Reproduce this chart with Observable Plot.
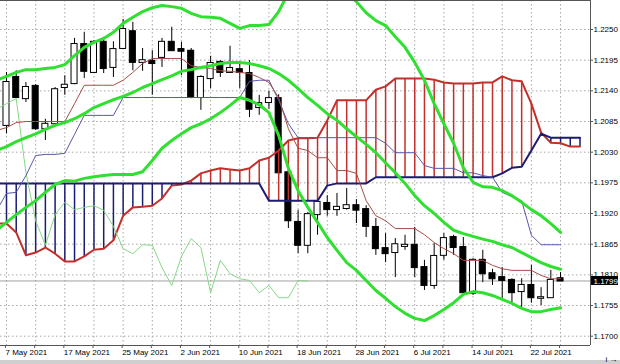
<!DOCTYPE html>
<html><head><meta charset="utf-8">
<script src="https://cdn.jsdelivr.net/npm/d3@7"></script>
<script src="https://cdn.jsdelivr.net/npm/@observablehq/plot@0.6"></script>
<style>
html,body{margin:0;padding:0;background:#fff;overflow:hidden}
#chart svg{background:linear-gradient(to bottom,#fff 0,#fff 360px,#cfcfcf 360px,#cfcfcf 364px) !important;font-family:"Liberation Sans",Arial,sans-serif}
</style></head><body><div id="chart"></div>
<script>
// ---- data (EURUSD daily, bar index 0 = 7 May 2021) ----
const tickBars = [0, 6, 12, 18, 24, 30, 36, 42, 48, 54];
const tickLabels = ["7 May 2021","17 May 2021","25 May 2021","2 Jun 2021","10 Jun 2021","18 Jun 2021","28 Jun 2021","6 Jul 2021","14 Jul 2021","22 Jul 2021"];
const gridBars = [0,3,6,9,12,15,18,21,24,27,30,33,36,39,42,45,48,51,54,57];
const priceTicks = [1.2250,1.2195,1.2140,1.2085,1.2030,1.1975,1.1920,1.1865,1.1810,1.1755,1.1700];
const lastPrice = 1.1799;

const opens = [1.2078,1.2164,1.2126,1.2148,1.2072,1.2081,1.2146,1.2153,1.2223,1.2173,
 1.2227,1.2182,1.2216,1.2246,1.2191,1.2193,1.2200,1.2227,1.2214,1.2211,
 1.2128,1.2162,1.2191,1.2173,1.2178,1.2171,1.2110,1.2119,1.2126,1.1993,
 1.1904,1.1863,1.1918,1.1938,1.1927,1.1929,1.1934,1.1927,1.1895,1.1857,
 1.1850,1.1861,1.1863,1.1823,1.1791,1.1845,1.1877,1.1859,1.1777,1.1836,
 1.1812,1.1805,1.1800,1.1780,1.1791,1.1768,1.1769,1.1803];
const highs = [1.2173,1.2176,1.2155,1.2151,1.2089,1.2146,1.2167,1.2234,1.2245,1.2230,
 1.2236,1.2228,1.2268,1.2263,1.2216,1.2212,1.2234,1.2254,1.2227,1.2216,
 1.2167,1.2202,1.2194,1.2220,1.2189,1.2194,1.2132,1.2139,1.2133,1.1997,
 1.1926,1.1922,1.1940,1.1952,1.1956,1.1965,1.1945,1.1934,1.1911,1.1884,
 1.1875,1.1881,1.1895,1.1836,1.1866,1.1884,1.1881,1.1877,1.1839,1.1854,
 1.1820,1.1823,1.1803,1.1803,1.1827,1.1787,1.1818,1.1814];
const lows = [1.2063,1.2126,1.2119,1.2069,1.2051,1.2080,1.2132,1.2151,1.2162,1.2171,
 1.2171,1.2164,1.2214,1.2176,1.2175,1.2132,1.2182,1.2211,1.2167,1.2126,
 1.2105,1.2144,1.2164,1.2171,1.2144,1.2092,1.2096,1.2107,1.1988,1.1893,
 1.1848,1.1848,1.1881,1.1915,1.1915,1.1926,1.1902,1.1877,1.1845,1.1832,
 1.1805,1.1854,1.1805,1.1782,1.1784,1.1836,1.1845,1.1777,1.1773,1.1796,
 1.1791,1.1768,1.1759,1.1751,1.1759,1.1755,1.1768,1.1800];
const closes = [1.2155,1.2128,1.2146,1.2072,1.2080,1.2142,1.2150,1.2223,1.2175,1.2227,
 1.2180,1.2214,1.2250,1.2191,1.2194,1.2189,1.2227,1.2212,1.2211,1.2128,
 1.2164,1.2189,1.2173,1.2180,1.2173,1.2107,1.2117,1.2126,1.1993,1.1907,
 1.1863,1.1918,1.1940,1.1927,1.1931,1.1934,1.1926,1.1897,1.1857,1.1848,
 1.1864,1.1863,1.1823,1.1791,1.1843,1.1875,1.1859,1.1778,1.1836,1.1812,
 1.1803,1.1800,1.1778,1.1791,1.1769,1.1769,1.1800,1.1799];

// indicator lines, first value at bar -1
const lineStart = -1;
const tenkan = [1.2069,1.2074,1.2083,1.2085,1.2085,1.2085,1.2085,1.2085,1.2117,1.2150,
 1.2150,1.2150,1.2150,1.2159,1.2173,1.2189,1.2198,1.2198,1.2198,1.2198,
 1.2185,1.2182,1.2180,1.2176,1.2175,1.2173,1.2171,1.2164,1.2155,1.2128,
 1.2072,1.2037,1.2033,1.2020,1.2020,1.1997,1.1997,1.1992,1.1943,1.1916,
 1.1907,1.1893,1.1893,1.1893,1.1882,1.1868,1.1857,1.1848,1.1836,1.1836,
 1.1836,1.1827,1.1821,1.1818,1.1818,1.1818,1.1809,1.1803,1.1803];
const kijun = [1.1926,1.1956,1.1958,1.1988,1.2024,1.2026,1.2026,1.2028,1.2062,1.2096,
 1.2096,1.2096,1.2096,1.2128,1.2128,1.2128,1.2128,1.2128,1.2128,1.2128,
 1.2128,1.2128,1.2128,1.2128,1.2128,1.2128,1.2157,1.2159,1.2159,1.2123,
 1.2081,1.2056,1.2056,1.2056,1.2056,1.2056,1.2056,1.2056,1.2056,1.2056,
 1.2046,1.2029,1.2029,1.2029,1.2006,1.2001,1.2001,1.2001,1.1993,1.1993,
 1.1988,1.1985,1.1958,1.1950,1.1943,1.1881,1.1864,1.1864,1.1864];
const bbUpper = [1.2159,1.2166,1.2173,1.2178,1.2178,1.2180,1.2182,1.2187,1.2203,1.2218,
 1.2227,1.2234,1.2245,1.2261,1.2272,1.2282,1.2289,1.2293,1.2291,1.2288,
 1.2279,1.2273,1.2272,1.2270,1.2261,1.2252,1.2257,1.2257,1.2259,1.2282,
 1.2316,1.2327,1.2327,1.2325,1.2324,1.2320,1.2313,1.2300,1.2280,1.2266,
 1.2257,1.2237,1.2218,1.2191,1.2159,1.2117,1.2081,1.2046,1.2002,1.1976,
 1.1968,1.1967,1.1961,1.1952,1.1940,1.1927,1.1916,1.1902,1.1886];
const bbMiddle = [1.2033,1.2040,1.2049,1.2056,1.2063,1.2071,1.2078,1.2083,1.2090,1.2099,
 1.2110,1.2117,1.2124,1.2130,1.2137,1.2146,1.2153,1.2160,1.2167,1.2175,
 1.2178,1.2182,1.2185,1.2189,1.2191,1.2191,1.2189,1.2185,1.2180,1.2171,
 1.2159,1.2144,1.2128,1.2114,1.2099,1.2087,1.2072,1.2058,1.2044,1.2029,
 1.2011,1.1993,1.1974,1.1952,1.1934,1.1920,1.1904,1.1890,1.1884,1.1879,
 1.1874,1.1870,1.1864,1.1859,1.1850,1.1841,1.1832,1.1825,1.1820];
const bbLower = [1.1890,1.1904,1.1918,1.1931,1.1943,1.1958,1.1972,1.1979,1.1978,1.1983,
 1.1986,1.1988,1.1990,1.1990,1.1990,1.1995,1.2015,1.2037,1.2051,1.2063,
 1.2074,1.2081,1.2090,1.2101,1.2114,1.2128,1.2123,1.2115,1.2101,1.2060,
 1.2001,1.1961,1.1931,1.1904,1.1877,1.1854,1.1832,1.1818,1.1800,1.1782,
 1.1768,1.1753,1.1741,1.1732,1.1728,1.1737,1.1748,1.1760,1.1775,1.1780,
 1.1778,1.1773,1.1766,1.1759,1.1750,1.1744,1.1744,1.1748,1.1751];
// cloud (senkou spans), first value at bar -1, runs to bar 59
const spanA = [1.1902,1.1902,1.1886,1.1845,1.1850,1.1859,1.1848,1.1834,1.1834,1.1843,
 1.1855,1.1857,1.1872,1.1916,1.1931,1.1932,1.1934,1.1947,1.1970,1.1972,
 1.1979,1.1992,1.1997,1.2001,1.1999,1.1997,1.2001,1.2015,1.2020,1.2033,
 1.2051,1.2055,1.2055,1.2056,1.2087,1.2123,1.2123,1.2123,1.2123,1.2142,
 1.2148,1.2162,1.2162,1.2162,1.2162,1.2160,1.2155,1.2153,1.2153,1.2153,
 1.2155,1.2155,1.2166,1.2159,1.2157,1.2117,1.2065,1.2047,1.2046,1.2040,1.2040];
const spanB = [1.1974,1.1974,1.1974,1.1974,1.1974,1.1974,1.1974,1.1974,1.1974,1.1974,
 1.1974,1.1974,1.1974,1.1974,1.1974,1.1974,1.1974,1.1974,1.1974,1.1974,
 1.1974,1.1974,1.1974,1.1974,1.1974,1.1974,1.1974,1.1974,1.1943,1.1943,
 1.1943,1.1943,1.1943,1.1943,1.1970,1.1974,1.1974,1.1974,1.1974,1.1985,
 1.1985,1.1985,1.1985,1.1985,1.1985,1.1985,1.1985,1.1985,1.1985,1.1985,
 1.1985,1.1985,1.1992,1.2002,1.2004,1.2033,1.2063,1.2056,1.2056,1.2056,1.2056];
// chikou span, first value at bar -1
const chikou = [1.2107,1.2117,1.2126,1.1993,1.1907,1.1863,1.1918,1.1940,1.1927,1.1931,
 1.1934,1.1926,1.1897,1.1857,1.1848,1.1864,1.1863,1.1823,1.1791,1.1843,
 1.1875,1.1859,1.1778,1.1836,1.1812,1.1803,1.1800,1.1778,1.1791,1.1769,
 1.1769,1.1800,1.1799];

// ---- build tables ----
const candles = opens.map((o, k) => ({i: k, open: o, high: highs[k], low: lows[k], close: closes[k]}));
const up = candles.filter(d => d.close >= d.open);
const down = candles.filter(d => d.close < d.open);
const toSeries = arr => arr.map((v, k) => ({i: lineStart + k, v}));
const cloud = spanA.map((a, k) => ({i: lineStart + k, a, b: spanB[k]}));
const labelOf = new Map(tickBars.map((b, k) => [b, tickLabels[k]]));

const xDomain = [-0.617, 60.082];
const yDomain = [1.16833, 1.2302];
const RED = "#c3302b", NAVY = "#1c1c72", GREEN = "#30e030";
const half = 0.31;

const chart = Plot.plot({
  width: 620, height: 364,
  marginLeft: 0, marginRight: 30, marginTop: 0, marginBottom: 19,
  x: {domain: xDomain},
  y: {domain: yDomain},
  marks: [
    Plot.gridY(priceTicks, {stroke: "#a8a8a8", strokeOpacity: 1, strokeDasharray: "1.5,2.5"}),
    Plot.gridX(gridBars, {stroke: "#a8a8a8", strokeOpacity: 1, strokeDasharray: "1.5,2.5"}),
    Plot.ruleY([lastPrice], {stroke: "#a0a0a0"}),
    // candles
    Plot.ruleX(candles, {x: "i", y1: "low", y2: "high", stroke: "#000", strokeWidth: 1}),
    Plot.rect(up, {x1: d => d.i - half, x2: d => d.i + half, y1: "open", y2: "close", fill: "#fff", stroke: "#000", strokeWidth: 1, insetTop: -0.5, insetBottom: -0.5}),
    Plot.rect(down, {x1: d => d.i - half, x2: d => d.i + half, y1: "open", y2: "close", fill: "#000", stroke: "#000", strokeWidth: 1, insetTop: -0.5, insetBottom: -0.5}),
    // cloud hatching
    Plot.ruleX(cloud.filter(d => d.a >= d.b), {x: "i", y1: "a", y2: "b", stroke: RED, strokeWidth: 1.5, clip: true}),
    Plot.ruleX(cloud.filter(d => d.a < d.b), {x: "i", y1: "a", y2: "b", stroke: NAVY, strokeWidth: 1.5, clip: true}),
    Plot.line(cloud, {x: "i", y: "a", stroke: RED, strokeWidth: 2, clip: true}),
    Plot.line(cloud, {x: "i", y: "b", stroke: NAVY, strokeWidth: 2, clip: true}),
    // ichimoku lines
    Plot.line(chikou.map((v, k) => ({i: lineStart + k, v})), {x: "i", y: "v", stroke: "#86d886", strokeWidth: 1, clip: true}),
    Plot.line(toSeries(kijun), {x: "i", y: "v", stroke: "#5858aa", strokeWidth: 1, clip: true}),
    Plot.line(toSeries(tenkan), {x: "i", y: "v", stroke: "#a84c48", strokeWidth: 1, clip: true}),
    // bollinger bands
    Plot.line(toSeries(bbUpper), {x: "i", y: "v", stroke: GREEN, strokeWidth: 3, clip: true}),
    Plot.line(toSeries(bbMiddle), {x: "i", y: "v", stroke: GREEN, strokeWidth: 3, clip: true}),
    Plot.line(toSeries(bbLower), {x: "i", y: "v", stroke: GREEN, strokeWidth: 3, clip: true}),
    // frame lines
    Plot.ruleY([yDomain[1], yDomain[0]], {stroke: "#555"}),
    Plot.ruleX([xDomain[1]], {stroke: "#555"}),
    // axes
    Plot.axisY(priceTicks, {anchor: "right", tickSize: 2, tickPadding: 1, fontSize: 8, tickFormat: d => d.toFixed(4), stroke: "#555", fill: "#000"}),
    Plot.axisX(gridBars, {anchor: "bottom", tickSize: 3, tickPadding: 1, fontSize: 8, textAnchor: "start", dx: -1, tickFormat: b => labelOf.get(b) ?? "", stroke: "#555", fill: "#000"}),
    // last price marker
    Plot.rect([lastPrice], {y1: d => d, y2: d => d, insetLeft: 591, insetRight: -28, insetTop: -4.5, insetBottom: -4.5, fill: "#000"}),
    Plot.text([lastPrice], {y: d => d, frameAnchor: "right", textAnchor: "start", dx: 3, dy: 0.5, text: d => d.toFixed(4), fill: "#fff", fontSize: 8})
  ]
});
document.getElementById("chart").append(chart);
</script></body></html>
